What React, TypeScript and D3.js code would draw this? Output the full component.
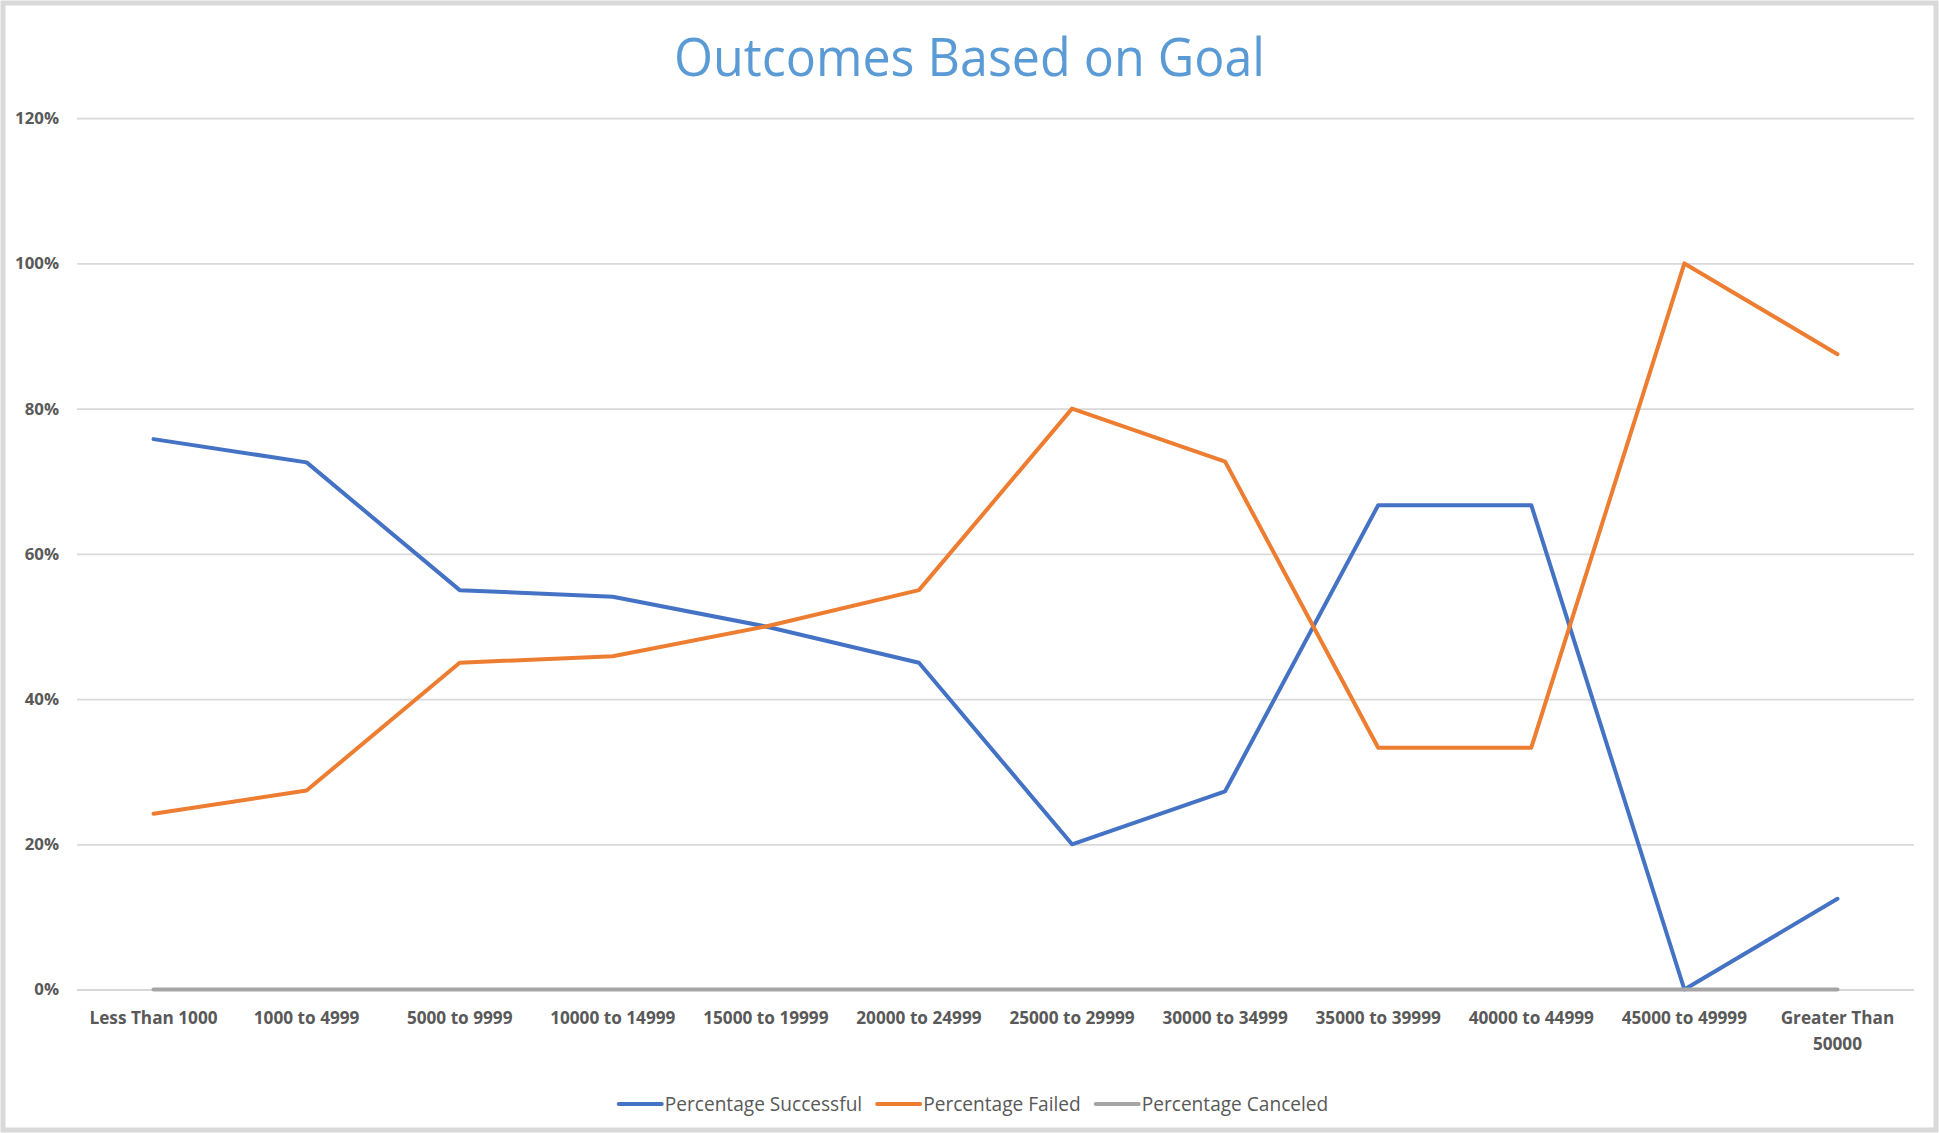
import React, { useEffect, useRef } from "react";
import * as d3 from "d3";

const chartTitle = "Outcomes Based on Goal";
const categories = [
  "Less Than 1000",
  "1000 to 4999",
  "5000 to 9999",
  "10000 to 14999",
  "15000 to 19999",
  "20000 to 24999",
  "25000 to 29999",
  "30000 to 34999",
  "35000 to 39999",
  "40000 to 44999",
  "45000 to 49999",
  "Greater Than 50000",
];
const percentageSuccessful = [75.8, 72.6, 55.0, 54.1, 50.0, 45.0, 20.0, 27.3, 66.7, 66.7, 0.0, 12.5];
const percentageFailed = [24.2, 27.4, 45.0, 45.9, 50.0, 55.0, 80.0, 72.7, 33.3, 33.3, 100.0, 87.5];
const percentageCanceled = [0, 0, 0, 0, 0, 0, 0, 0, 0, 0, 0, 0];
const seriesNames = ["Percentage Successful", "Percentage Failed", "Percentage Canceled"];
const yTickValues = [0, 20, 40, 60, 80, 100, 120];

const W = 1939;
const H = 1133;
const FONT = "'Open Sans', 'Noto Sans', sans-serif";
const COLORS = ["#4472C4", "#ED7D31", "#A5A5A5"];

export default function App() {
  const ref = useRef<SVGSVGElement>(null);

  useEffect(() => {
    const svg = d3.select(ref.current);
    svg.selectAll("*").remove();

    const left = 77;
    const right = 1914;
    const x = d3.scaleBand<string>().domain(categories).range([left, right]);
    const bw = x.bandwidth();
    const cx = (c: string) => (x(c) as number) + bw / 2;
    const y = d3.scaleLinear().domain([0, 120]).range([989.5, 118.2]);

    svg.append("rect").attr("x", 0).attr("y", 0).attr("width", W).attr("height", H).attr("fill", "#ffffff");
    svg
      .append("rect")
      .attr("x", 3)
      .attr("y", 3)
      .attr("width", W - 6)
      .attr("height", H - 6)
      .attr("fill", "none")
      .attr("stroke", "#d9d9d9")
      .attr("stroke-width", 5);

    // title
    svg
      .append("text")
      .attr("x", W / 2)
      .attr("y", 76)
      .attr("text-anchor", "middle")
      .attr("font-family", FONT)
      .attr("font-size", 53)
      .attr("fill", "#5B9BD5")
      .attr("textLength", 591)
      .attr("lengthAdjust", "spacingAndGlyphs")
      .text(chartTitle);

    // y axis with gridlines
    const yAxis = d3
      .axisLeft(y)
      .tickValues(yTickValues)
      .tickSize(-(right - left))
      .tickPadding(18)
      .tickFormat((d) => `${d}%`);
    const gy = svg.append("g").attr("transform", `translate(${left},0)`).call(yAxis);
    gy.select(".domain").remove();
    gy.selectAll(".tick line").attr("stroke", "#d9d9d9").attr("stroke-width", 1.8);
    gy.selectAll(".tick text")
      .attr("font-family", FONT)
      .attr("font-size", 16.8)
      .attr("font-weight", "bold")
      .attr("fill", "#595959");

    // x labels with wrapping
    const gx = svg.append("g");
    categories.forEach((c) => {
      const t = gx
        .append("text")
        .attr("x", cx(c))
        .attr("y", 1024)
        .attr("text-anchor", "middle")
        .attr("font-family", FONT)
        .attr("font-size", 17.2)
        .attr("font-weight", "bold")
        .attr("fill", "#595959");
      const words = c.split(" ");
      let line: string[] = [];
      let ts = t.append("tspan").attr("x", cx(c)).attr("dy", 0);
      words.forEach((w) => {
        line.push(w);
        ts.text(line.join(" "));
        const len = (ts.node() as SVGTSpanElement).getComputedTextLength();
        if (len > bw - 2 && line.length > 1) {
          line.pop();
          ts.text(line.join(" "));
          line = [w];
          ts = t.append("tspan").attr("x", cx(c)).attr("dy", 26).text(w);
        }
      });
    });

    // series lines
    const allSeries = [percentageSuccessful, percentageFailed, percentageCanceled];
    const lineGen = d3
      .line<number>()
      .x((_, i) => cx(categories[i]))
      .y((d) => y(d));
    allSeries.forEach((s, i) => {
      svg
        .append("path")
        .attr("d", lineGen(s) as string)
        .attr("fill", "none")
        .attr("stroke", COLORS[i])
        .attr("stroke-width", 4)
        .attr("stroke-linejoin", "round")
        .attr("stroke-linecap", "round");
    });

    // legend
    const lg = svg.append("g");
    let pos = 0;
    const ly = 1104;
    seriesNames.forEach((name, i) => {
      lg.append("line")
        .attr("x1", pos)
        .attr("x2", pos + 43)
        .attr("y1", ly)
        .attr("y2", ly)
        .attr("stroke", COLORS[i])
        .attr("stroke-width", 4)
        .attr("stroke-linecap", "round");
      const t = lg
        .append("text")
        .attr("x", pos + 46)
        .attr("y", ly + 7)
        .attr("font-family", FONT)
        .attr("font-size", 19.1)
        .attr("fill", "#595959")
        .text(name);
      const len = (t.node() as SVGTextElement).getComputedTextLength();
      pos += 46 + len + 15;
    });
    const total = pos - 15;
    lg.attr("transform", `translate(${W / 2 + 4 - total / 2},0)`);
  }, []);

  return (
    <svg
      ref={ref}
      width={W}
      height={H}
      style={{ position: "absolute", left: 0, top: 0, display: "block" }}
    />
  );
}
